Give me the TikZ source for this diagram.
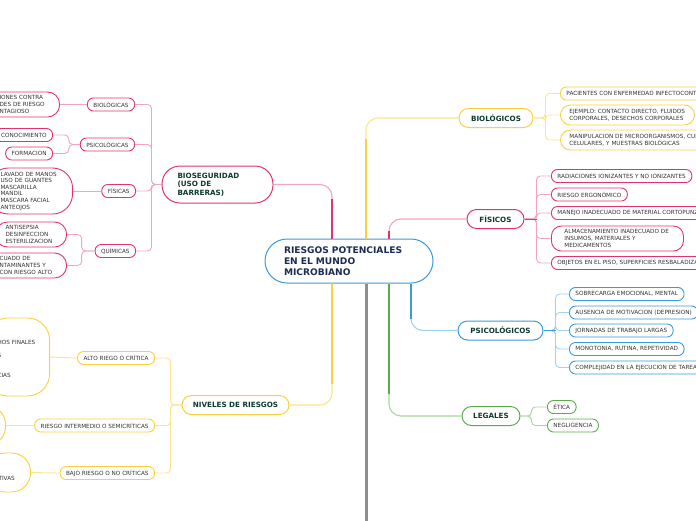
\documentclass[tikz,border=0pt]{standalone}
\usepackage{fontspec}
\setmainfont{DejaVu Sans}
\usetikzlibrary{calc}

\definecolor{pinkD}{HTML}{E2336F}
\definecolor{pinkL}{HTML}{F4A3C1}
\definecolor{yelD}{HTML}{F7D23E}
\definecolor{yelL}{HTML}{FCE48E}
\definecolor{bluD}{HTML}{3A9BDC}
\definecolor{bluL}{HTML}{A3D2F1}
\definecolor{grnD}{HTML}{5BAA4C}
\definecolor{grnL}{HTML}{A9D59E}
\definecolor{trunkgray}{HTML}{8E8E8E}
\definecolor{tgreen}{HTML}{0E3B2B}
\definecolor{navy}{HTML}{1C2C54}
\definecolor{tgray}{HTML}{333333}

\begin{document}
\begin{tikzpicture}[x=1pt, y=-1pt,
    leaf/.style={draw, line width=0.9pt, rounded corners=6pt, fill=white, text=tgray,
        font=\fontsize{5.7}{6.6}\selectfont, minimum height=13pt, inner xsep=6pt, inner ysep=2pt},
    big/.style={leaf, align=left, rounded corners=10pt},
    topic/.style={draw, line width=1pt, rounded corners=9.5pt, fill=white, text=tgreen,
        font=\bfseries\fontsize{7.2}{8.5}\selectfont, minimum height=19pt},
    twig/.style={line width=0.9pt, rounded corners=4pt},
    trunk/.style={line width=2.6pt},
    limb/.style={line width=1.1pt, rounded corners=12pt}]
    \useasboundingbox (0,0) rectangle (696,520);
    \clip (0,0) rectangle (696,520);

    % centre
    \node[draw=bluD, line width=1pt, rounded corners=22pt, fill=white, text=navy,
        font=\bfseries\fontsize{9.1}{11}\selectfont, align=left, text width=130pt,
        inner xsep=19pt, minimum height=44pt] (main) at (349,261)
        {RIESGOS POTENCIALES\\EN EL MUNDO\\MICROBIANO};

    % main topics
    \node[topic, draw=yelD, minimum width=74pt] (bio) at (496,118) {BIOLÓGICOS};
    \node[topic, draw=pinkD, minimum width=57pt] (fis) at (495.5,219) {FÍSICOS};
    \node[topic, draw=bluD, minimum width=85pt] (psi) at (500.5,330.5) {PSICOLÓGICOS};
    \node[topic, draw=grnD, minimum width=58pt] (leg) at (491,416) {LEGALES};
    \node[topic, draw=pinkD, minimum height=37pt, rounded corners=18pt, align=left,
        text width=80pt, inner xsep=15.5pt] (bios) at (217.5,184.5) {BIOSEGURIDAD\\(USO DE\\BARRERAS)};
    \node[topic, draw=yelD, minimum width=107pt] (niv) at (235.5,405) {NIVELES DE RIESGOS};

    % biologicos
    \node[leaf, draw=yelD, anchor=west] (b1) at (560,93.5) {PACIENTES CON ENFERMEDAD INFECTOCONTAGIOSA};
    \node[big, draw=yelD, anchor=west, text width=116pt, inner xsep=9pt, minimum height=20pt] (b2) at (560,115)
        {EJEMPLO: CONTACTO DIRECTO, FLUIDOS\\CORPORALES, DESECHOS CORPORALES};
    \node[big, draw=yelD, anchor=west, text width=160pt, inner xsep=9pt, minimum height=20pt] (b3) at (560,140)
        {MANIPULACION DE MICROORGANISMOS, CULTIVOS\\CELULARES, Y MUESTRAS BIOLÓGICAS};

    % fisicos
    \node[leaf, draw=pinkD, anchor=west] (f1) at (551,176) {RADIACIONES IONIZANTES Y NO IONIZANTES};
    \node[leaf, draw=pinkD, anchor=west] (f2) at (551,194.5) {RIESGO ERGONÓMICO};
    \node[leaf, draw=pinkD, anchor=west] (f3) at (551,213) {MANEJO INADECUADO DE MATERIAL CORTOPUNZANTE};
    \node[big, draw=pinkD, anchor=west, text width=106pt, inner xsep=13pt, minimum height=25pt] (f4) at (551,238.5)
        {ALMACENAMIENTO INADECUADO DE\\INSUMOS, MATERIALES Y\\MEDICAMENTOS};
    \node[leaf, draw=pinkD, anchor=west] (f5) at (551,263) {OBJETOS EN EL PISO, SUPERFICIES RESBALADIZAS};

    % psicologicos
    \node[leaf, draw=bluD, anchor=west] (p1) at (569,294) {SOBRECARGA EMOCIONAL, MENTAL};
    \node[leaf, draw=bluD, anchor=west] (p2) at (569,312.5) {AUSENCIA DE MOTIVACION (DEPRESION)};
    \node[leaf, draw=bluD, anchor=west] (p3) at (569,330.5) {JORNADAS DE TRABAJO LARGAS};
    \node[leaf, draw=bluD, anchor=west] (p4) at (569,349) {MONOTONIA, RUTINA, REPETIVIDAD};
    \node[leaf, draw=bluD, anchor=west] (p5) at (569,367.5) {COMPLEJIDAD EN LA EJECUCION DE TAREAS};

    % legales
    \node[leaf, draw=grnD, anchor=west] (l1) at (547,407) {ÉTICA};
    \node[leaf, draw=grnD, anchor=west] (l2) at (547,425.5) {NEGLIGENCIA};

    % bioseguridad
    \node[leaf, draw=pinkD, anchor=east] (s1) at (135,104.5) {BIOLÓGICAS};
    \node[leaf, draw=pinkD, anchor=east] (s2) at (135,144.5) {PSICOLÓGICAS};
    \node[leaf, draw=pinkD, anchor=east] (s3) at (136,191) {FÍSICAS};
    \node[leaf, draw=pinkD, anchor=east] (s4) at (136,251) {QUÍMICAS};
    \node[big, draw=pinkD, anchor=east, text width=48pt, inner xsep=12pt, minimum height=25pt, rounded corners=12pt] (s1a) at (60,104.5)
        {IONES CONTRA\\DES DE RIESGO\\NTAGIOSO};
    \node[leaf, draw=pinkD, anchor=east] (s2a) at (53,135) {CONOCIMIENTO};
    \node[leaf, draw=pinkD, anchor=east] (s2b) at (53,153.5) {FORMACION};
    \node[big, draw=pinkD, anchor=east, text width=60pt, inner xsep=12pt, minimum height=46pt, rounded corners=20pt] (s3a) at (73,191)
        {LAVADO DE MANOS\\USO DE GUANTES\\MASCARILLA\\MANDIL\\MASCARA FACIAL\\ANTEOJOS};
    \node[big, draw=pinkD, anchor=east, text width=51pt, inner xsep=10pt, minimum height=25pt, rounded corners=12pt] (s4a) at (67,234.5)
        {ANTISEPSIA\\DESINFECCION\\ESTERILIZACION};
    \node[big, draw=pinkD, anchor=east, text width=55pt, inner xsep=12pt, minimum height=25pt, rounded corners=12pt] (s4b) at (67,265.5)
        {CUADO DE\\NTAMINANTES Y\\CON RIESGO ALTO};

    % niveles
    \node[leaf, draw=yelD, anchor=east] (n1) at (155,358) {ALTO RIEGO O CRÍTICA};
    \node[leaf, draw=yelD, anchor=east] (n2) at (155,425.5) {RIESGO INTERMEDIO O SEMICRÍTICAS};
    \node[leaf, draw=yelD, anchor=east] (n3) at (155,473) {BAJO RIESGO O NO CRÍTICAS};
    \node[big, draw=yelD, anchor=east, text width=40pt, inner xsep=12pt, minimum height=78pt, rounded corners=22pt] (n1a) at (50,357)
        {\mbox{}\\[1.4pt]HOS FINALES\\[6.6pt]S\\[13.2pt]CIAS};
    \node[leaf, draw=yelD, anchor=east, minimum width=40pt, minimum height=40pt, rounded corners=19pt] (n2a) at (6,425.5) {};
    \node[big, draw=yelD, anchor=east, text width=20pt, inner xsep=12pt, minimum height=39pt, rounded corners=19pt] (n3a) at (31,472.5)
        {\mbox{}\\[10pt]TIVAS};

    % limbs from the centre
    \draw[limb, pinkL] ([xshift=-17pt]main.north) |- (bios.east);
    \draw[trunk, pinkD] ([xshift=-17pt]main.north) -- ++(0,-40);
    \draw[limb, yelL] ([xshift=17pt]main.north) |- (bio.west);
    \draw[trunk, yelD] ([xshift=17pt]main.north) -- ++(0,-100);
    \draw[limb, pinkL] ([xshift=40pt]main.north) |- (fis.west);
    \draw[trunk, pinkD] ([xshift=40pt]main.north) -- ++(0,-8);
    \draw[limb, bluL] ([xshift=62pt]main.south) |- (psi.west);
    \draw[trunk, bluD] ([xshift=62pt]main.south) -- ++(0,35);
    \draw[limb, grnL] ([xshift=40pt]main.south) |- (leg.west);
    \draw[trunk, grnD] ([xshift=40pt]main.south) -- ++(0,110);
    \draw[limb, yelL] ([xshift=-17pt]main.south) |- (niv.east);
    \draw[trunk, yelD] ([xshift=-17pt]main.south) -- ++(0,100);
    \draw[line width=3pt, trunkgray] ([xshift=17pt]main.south) -- ++(0,240);

    % twigs
    \foreach \c in {b1,b2,b3} \draw[twig, yelL] (bio.east) -- ++(12,0) |- (\c.west);
    \foreach \c in {f1,f2,f3,f4,f5} \draw[twig, pinkL] (fis.east) -- ++(12,0) |- (\c.west);
    \foreach \c in {p1,p2,p3,p4,p5} \draw[twig, bluL] (psi.east) -- ++(12,0) |- (\c.west);
    \foreach \c in {l1,l2} \draw[twig, grnL] (leg.east) -- ++(11,0) |- (\c.west);
    \foreach \c in {s1,s2,s3,s4} \draw[twig, pinkL] (bios.west) -- ++(-10,0) |- (\c.east);
    \foreach \c in {s2a,s2b} \draw[twig, pinkL] (s2.west) -- ++(-11,0) |- (\c.east);
    \foreach \c in {s4a,s4b} \draw[twig, pinkL] (s4.west) -- ++(-13,0) |- (\c.east);
    \foreach \c in {n1,n2,n3} \draw[twig, yelL] (niv.west) -- ++(-11,0) |- (\c.east);
    \draw[twig, pinkL] (s1.west) -- (s1a.east);
    \draw[twig, pinkL] (s3.west) -- (s3a.east);
    \draw[twig, yelL] (n1.west) -- (n1a.east);
    \draw[twig, yelL] (n2.west) -- (n2a.east);
    \draw[twig, yelL] (n3.west) -- (n3a.east);
    \draw[twig, bluD] (psi.east) -- ++(12,0);
    \draw[twig, pinkD] (fis.east) -- ++(12,0);
\end{tikzpicture}
\end{document}
